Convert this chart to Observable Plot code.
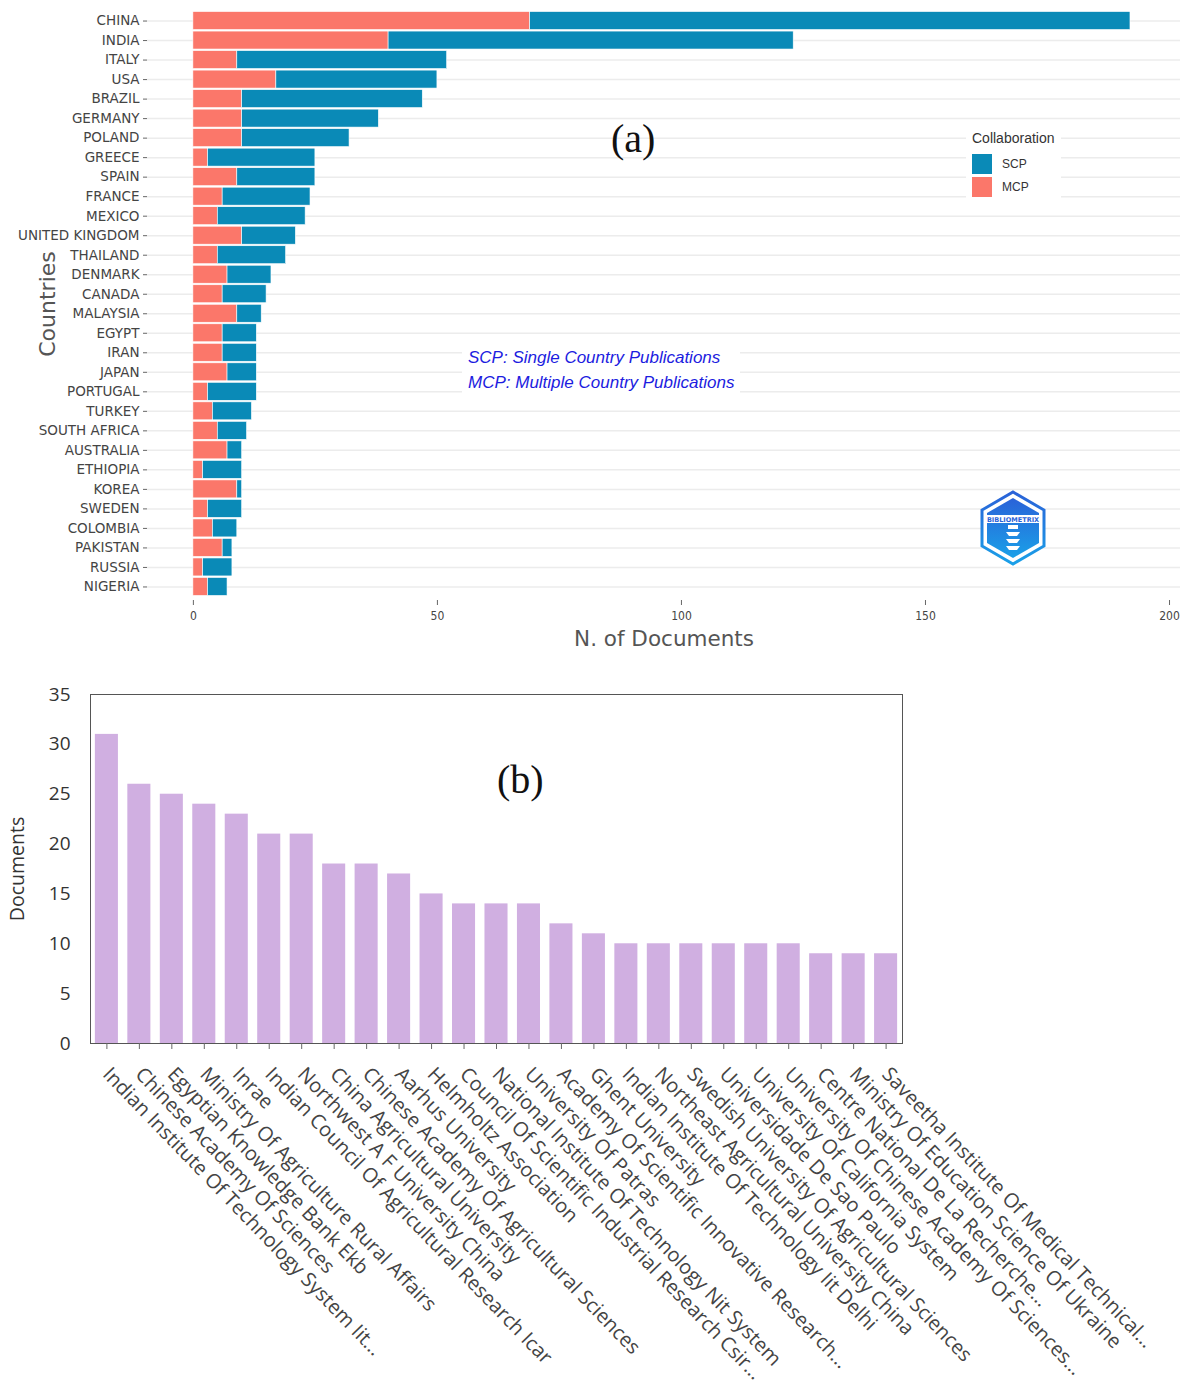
<!DOCTYPE html>
<html><head><meta charset="utf-8">
<script src="https://cdn.jsdelivr.net/npm/d3@7"></script>
<script src="https://cdn.jsdelivr.net/npm/@observablehq/plot@0.6"></script>
<style>
body{margin:0;background:#fff;}
#root{position:relative;width:1182px;height:1384px;overflow:hidden;background:#fff;}
#a,#b{position:absolute;left:0;}
#a{top:0}
#b{top:660px}
.panel{position:absolute;font-family:"Liberation Serif",serif;font-size:40px;color:#111;line-height:1;}
.legend{position:absolute;left:966px;top:128px;font-family:"Liberation Sans",Arial,sans-serif;color:#333;background:#fff;padding:2px 6px;}
.legend .t{font-size:14px;margin-bottom:6px;}
.legend .r{display:flex;align-items:center;height:23px;font-size:12px;}
.legend .s{width:20px;height:20px;margin-right:10px;}
.note{position:absolute;left:462px;top:343px;background:#fff;padding:2px 6px;font-family:"Liberation Sans",Arial,sans-serif;font-style:italic;font-size:17px;color:#1c1ce0;line-height:25px;}
.logo{position:absolute;left:978px;top:489px;}
</style></head><body>
<div id="root">
  <div id="a"></div>
  <div id="b"></div>
</div>
<script>
// ---- Panel (a): countries, MCP / SCP document counts ----
const countries = ["CHINA","INDIA","ITALY","USA","BRAZIL","GERMANY","POLAND","GREECE","SPAIN","FRANCE","MEXICO","UNITED KINGDOM","THAILAND","DENMARK","CANADA","MALAYSIA","EGYPT","IRAN","JAPAN","PORTUGAL","TURKEY","SOUTH AFRICA","AUSTRALIA","ETHIOPIA","KOREA","SWEDEN","COLOMBIA","PAKISTAN","RUSSIA","NIGERIA"];
const mcp = [69,40,9,17,10,10,10,3,9,6,5,10,5,7,6,9,6,6,7,3,4,5,7,2,9,3,4,6,2,3];
const scp = [123,83,43,33,37,28,22,22,16,18,18,11,14,9,9,5,7,7,6,10,8,6,3,8,1,7,5,2,6,4];
const xTicksA = [0,50,100,150,200];
const collabTypes = ["SCP","MCP"];
const collabColors = ["#0a8ab7","#fb776a"];

// ---- Panel (b): institutions ----
const institutions = [
  "Indian Institute Of Technology System Iit...",
  "Chinese Academy Of Sciences",
  "Egyptian Knowledge Bank Ekb",
  "Ministry Of Agriculture Rural Affairs",
  "Inrae",
  "Indian Council Of Agricultural Research Icar",
  "Northwest A F University China",
  "China Agricultural University",
  "Chinese Academy Of Agricultural Sciences",
  "Aarhus University",
  "Helmholtz Association",
  "Council Of Scientific Industrial Research Csir...",
  "National Institute Of Technology Nit System",
  "University Of Patras",
  "Academy Of Scientific Innovative Research...",
  "Ghent University",
  "Indian Institute Of Technology Iit Delhi",
  "Northeast Agricultural University China",
  "Swedish University Of Agricultural Sciences",
  "Universidade De Sao Paulo",
  "University Of California System",
  "University Of Chinese Academy Of Sciences...",
  "Centre National De La Recherche...",
  "Ministry Of Education Science Of Ukraine",
  "Saveetha Institute Of Medical Technical..."
];
const documents = [31,26,25,24,23,21,21,18,18,17,15,14,14,14,12,11,10,10,10,10,10,10,9,9,9];
const yTicksB = [0,5,10,15,20,25,30,35];

function stripArrows(svg){
  svg.querySelectorAll("text").forEach(t=>{
    if (/[→↑←↓]/.test(t.textContent)) t.textContent = t.textContent.replace(/\s*[→↑←↓]\s*/g,"").trim();
  });
}

// ---------- chart (a) ----------
const rowsA = countries.flatMap((c,i)=>[
  {country:c, type:"MCP", value:mcp[i]},
  {country:c, type:"SCP", value:scp[i]}
]);
const fontA = '"DejaVu Sans", Verdana, sans-serif';
const chartA = Plot.plot({
  width:1182, height:660,
  marginTop:10, marginBottom:63, marginLeft:147, marginRight:2,
  style:{fontFamily:fontA, background:"#fff", color:"#444"},
  x:{domain:[-9.4,202.25]},
  y:{domain:countries, padding:0.08, round:false},
  color:{domain:collabTypes, range:collabColors},
  marks:[
    Plot.gridY({stroke:"#ececec", strokeOpacity:1, strokeWidth:1.5}),
    Plot.barX(rowsA, Plot.stackX({x:"value", y:"country", fill:"type", stroke:"#fff", strokeWidth:0.6})),
    Plot.ruleY([0], {frameAnchor:"bottom", dy:3, stroke:"#666", strokeWidth:1.5}),
    Plot.axisX({ticks:xTicksA, tickSize:5, tickPadding:6, dy:3, fontSize:12, stroke:"#666", fill:"#444",
      label:"N. of Documents", labelAnchor:"center", labelOffset:48, labelArrow:"none",
      fontFamily:'"DejaVu Sans Condensed","DejaVu Sans",sans-serif'}),
    Plot.axisY({tickSize:4, tickPadding:4, fontSize:13.5, stroke:"#666", fill:"#444",
      label:"Countries", labelAnchor:"center", labelOffset:108, labelArrow:"none"})
  ]
});
document.getElementById("a").appendChild(chartA);
stripArrows(chartA);
chartA.querySelectorAll("g[aria-label='x-axis label'] text").forEach(t=>{t.setAttribute("font-size","21.5");t.setAttribute("fill","#555");t.setAttribute("font-family",'"DejaVu Sans", sans-serif');});
chartA.querySelectorAll("g[aria-label='y-axis label'] text").forEach(t=>{t.setAttribute("font-size","22");t.setAttribute("fill","#555");});

// ---------- chart (b) ----------
const rowsB = institutions.map((n,i)=>({name:n, docs:documents[i]}));
const fontB = '"Open Sans", "Lato", sans-serif';
const chartB = Plot.plot({
  width:1182, height:724,
  marginTop:34, marginBottom:341, marginLeft:90, marginRight:280,
  style:{fontFamily:fontB, background:"transparent", color:"#333", overflow:"visible"},
  x:{domain:institutions, paddingInner:0.29, paddingOuter:0.15, round:false},
  y:{domain:[0,35]},
  marks:[
    Plot.barY(rowsB, {x:"name", y:"docs", fill:"#d0afe1"}),
    Plot.frame({stroke:"#555", strokeWidth:1}),
    Plot.axisY({ticks:yTicksB, tickSize:0, tickPadding:20, fontSize:19, fill:"#333",
      label:"Documents", labelAnchor:"center", labelOffset:80, labelArrow:"none"}),
    Plot.axisX({tickSize:6, stroke:"#666", text:null, label:null}),
    Plot.axisX({tickRotate:46, tickSize:0, tickPadding:22, dx:5, fontSize:20, fill:"#444",
      lineAnchor:"top", label:null})
  ]
});
document.getElementById("b").appendChild(chartB);
stripArrows(chartB);
chartB.querySelectorAll("g[aria-label='y-axis label'] text").forEach(t=>{t.setAttribute("font-size","19.5");t.setAttribute("fill","#333");});

// ---------- annotations ----------
const root = document.getElementById("root");
function addDiv(cls, html, style){const d=document.createElement("div");d.className=cls;d.innerHTML=html;if(style)Object.assign(d.style,style);root.appendChild(d);return d;}
addDiv("panel","(a)",{left:"611px",top:"119px"});
addDiv("panel","(b)",{left:"497px",top:"760px"});
addDiv("legend",`<div class="t">Collaboration</div>` + collabTypes.map((t,i)=>`<div class="r"><div class="s" style="background:${collabColors[i]}"></div>${t}</div>`).join(""));
addDiv("note","SCP: Single Country Publications<br>MCP: Multiple Country Publications");
addDiv("logo",`<svg width="70" height="78" viewBox="0 0 70 78">
<defs><linearGradient id="lg" x1="0" y1="0" x2="0" y2="1"><stop offset="0" stop-color="#2a62d8"/><stop offset="1" stop-color="#1aa0e8"/></linearGradient></defs>
<polygon points="35,3 66,21 66,57 35,75 4,57 4,21" fill="#fff" stroke="url(#lg)" stroke-width="3"/>
<polygon points="35,9 61,24 61,54 35,69 9,54 9,24" fill="url(#lg)"/>
<rect x="7" y="26" width="56" height="8" fill="#fff"/>
<text x="35" y="32.5" text-anchor="middle" font-size="6.5" font-weight="bold" font-family="DejaVu Sans" fill="#2a62d8">BIBLIOMETRIX</text>
<path d="M30 36 h10 v4 h-10z M28 43 h14 l-3 4 h-8z M28 50 h14 l-3 4 h-8z M28 57 h14 l-3 4 h-8z" fill="#fff"/>
</svg>`);
</script>
</body></html>
